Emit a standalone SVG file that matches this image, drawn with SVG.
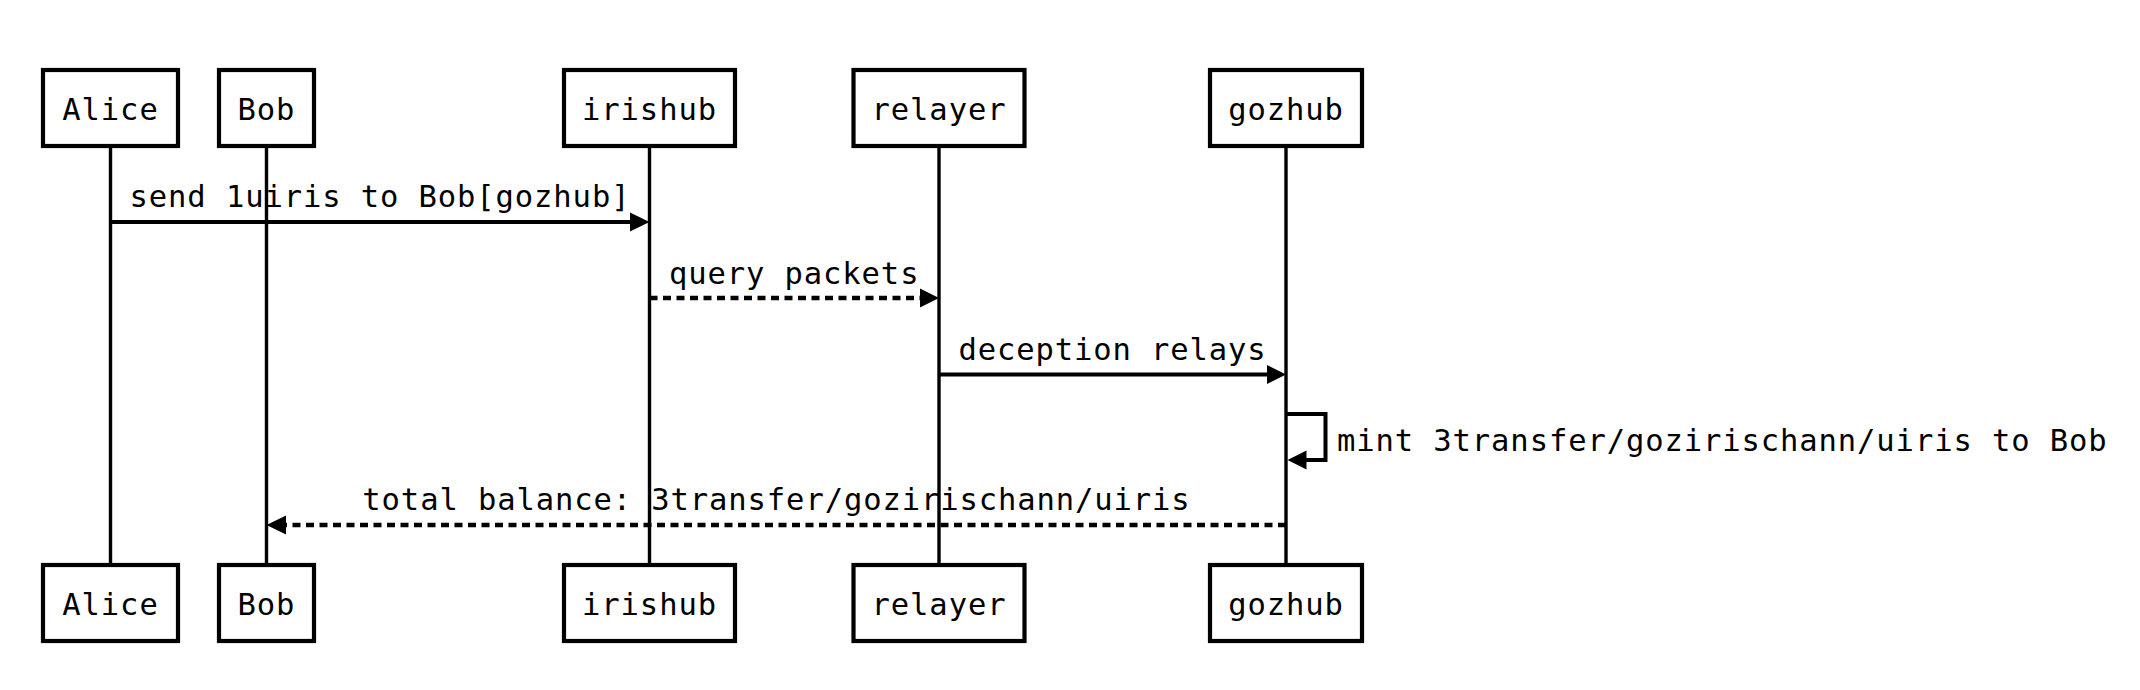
<svg xmlns="http://www.w3.org/2000/svg" width="2140" height="690" viewBox="0 0 2140 690">
<style>
.box{fill:#fff;stroke:#000;stroke-width:4.2}
.life{stroke:#000;stroke-width:3.4;fill:none}
.msg{stroke:#000;stroke-width:4;fill:none}
.dash{stroke-dasharray:8 5.5;stroke-width:4.4}
.lbl{font-family:"DejaVu Sans Mono","Liberation Mono",monospace;font-size:30.5px;letter-spacing:0.9px;fill:#000}
.c{text-anchor:middle}
.ah{fill:#000}
</style>
<rect x="0" y="0" width="2140" height="690" fill="#fff"/>
<g id="lifelines">
<line class="life" x1="110.5" y1="146" x2="110.5" y2="565"/>
<line class="life" x1="266.5" y1="146" x2="266.5" y2="565"/>
<line class="life" x1="649.5" y1="146" x2="649.5" y2="565"/>
<line class="life" x1="939" y1="146" x2="939" y2="565"/>
<line class="life" x1="1286" y1="146" x2="1286" y2="565"/>
</g>
<g id="node-alice">
<rect class="box" x="43" y="70" width="135" height="76"/>
<text class="lbl c" x="110.5" y="119.5">Alice</text>
<rect class="box" x="43" y="565" width="135" height="76"/>
<text class="lbl c" x="110.5" y="614.5">Alice</text>
</g>
<g id="node-bob">
<rect class="box" x="219" y="70" width="95" height="76"/>
<text class="lbl c" x="266.5" y="119.5">Bob</text>
<rect class="box" x="219" y="565" width="95" height="76"/>
<text class="lbl c" x="266.5" y="614.5">Bob</text>
</g>
<g id="node-irishub">
<rect class="box" x="564" y="70" width="171" height="76"/>
<text class="lbl c" x="649.5" y="119.5">irishub</text>
<rect class="box" x="564" y="565" width="171" height="76"/>
<text class="lbl c" x="649.5" y="614.5">irishub</text>
</g>
<g id="node-relayer">
<rect class="box" x="853.5" y="70" width="171" height="76"/>
<text class="lbl c" x="939" y="119.5">relayer</text>
<rect class="box" x="853.5" y="565" width="171" height="76"/>
<text class="lbl c" x="939" y="614.5">relayer</text>
</g>
<g id="node-gozhub">
<rect class="box" x="1210" y="70" width="152" height="76"/>
<text class="lbl c" x="1286" y="119.5">gozhub</text>
<rect class="box" x="1210" y="565" width="152" height="76"/>
<text class="lbl c" x="1286" y="614.5">gozhub</text>
</g>
<g id="connectors">
<line class="msg" x1="110.5" y1="222" x2="632" y2="222"/>
<polygon class="ah" points="649.5,222 630,212.5 630,231.5"/>
<text class="lbl c" x="380" y="207">send 1uiris to Bob[gozhub]</text>

<line class="msg dash" x1="649.5" y1="298" x2="922" y2="298"/>
<polygon class="ah" points="939,298 920,288.5 920,307.5"/>
<text class="lbl c" x="794.2" y="283.5">query packets</text>

<line class="msg" x1="939" y1="374.5" x2="1269" y2="374.5"/>
<polygon class="ah" points="1286,374.5 1267,365 1267,384"/>
<text class="lbl c" x="1112.5" y="359.5">deception relays</text>

<polyline class="msg" points="1286,414 1325.5,414 1325.5,460 1303,460"/>
<polygon class="ah" points="1287.5,460 1306.5,450.5 1306.5,469.5"/>
<text class="lbl" x="1337" y="451">mint 3transfer/gozirischann/uiris to Bob</text>

<line class="msg dash" x1="1286" y1="525" x2="284" y2="525"/>
<polygon class="ah" points="266.5,525 286,515.5 286,534.5"/>
<text class="lbl c" x="776.5" y="510">total balance: 3transfer/gozirischann/uiris</text>
</g>
</svg>
